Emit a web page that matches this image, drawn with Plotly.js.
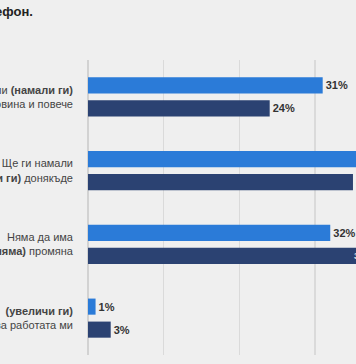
<!DOCTYPE html>
<html>
<head>
<meta charset="utf-8">
<script src="https://cdn.plot.ly/plotly-3.0.1.min.js"></script>
<style>html,body{margin:0;padding:0;background:#efefef;}#chart{width:356px;height:364px;}</style>
</head>
<body>
<div id="chart"></div>
<script>
const categories = [
  "Ще ги намали <b>(намали ги)</b><br>наполовина и повече",
  "Ще ги намали<br><b>(намали ги)</b> донякъде",
  "Няма да има<br><b>(няма)</b> промяна",
  "<b>(увеличи ги)</b><br>Ще ги увеличи за работата ми"
];
const seriesLight = [31, 36, 32, 1];
const seriesDark = [24, 35, 38, 3];
const labelsLight = seriesLight.map(v => "<b>" + v + "%</b>");
const labelsDark = seriesDark.map(v => "<b>" + v + "%</b>");

const font = "Liberation Sans, Arial, sans-serif";
const traces = [
  {
    type: "bar", orientation: "h", y: categories, x: seriesLight,
    marker: {color: "#2b7bd8"},
    text: labelsLight, textposition: "outside",
    textfont: {family: font, size: 11, color: "#333333"},
    cliponaxis: true, hoverinfo: "none"
  },
  {
    type: "bar", orientation: "h", y: categories, x: seriesDark,
    marker: {color: "#2b4272"},
    text: labelsDark, textposition: ["outside", "outside", "inside", "outside"],
    insidetextanchor: "end",
    textfont: {family: font, size: 11, color: "#333333"},
    insidetextfont: {family: font, size: 11, color: "#f0f0f0"},
    outsidetextfont: {family: font, size: 11, color: "#333333"},
    cliponaxis: true, hoverinfo: "none"
  }
];

const layout = {
  width: 356, height: 364,
  margin: {l: 88, r: 0, t: 60, b: 9, pad: 0},
  paper_bgcolor: "#efefef", plot_bgcolor: "#efefef",
  barmode: "group", bargap: 0.376, bargroupgap: 0.3,
  showlegend: false,
  font: {family: font, size: 11, color: "#444444"},
  xaxis: {
    range: [0, 35.4], dtick: 10, tick0: 0, showticklabels: false,
    showgrid: true, gridcolor: "#dadada", gridwidth: 1.5,
    zeroline: true, zerolinecolor: "#d2d2d2", zerolinewidth: 1.5,
    showline: false, fixedrange: true
  },
  yaxis: {
    autorange: "reversed", showgrid: false, zeroline: false, showline: false,
    ticks: "", ticklabelstandoff: 14,
    tickfont: {family: font, size: 11, color: "#444444"}
  },
  annotations: [{
    text: "<b>по телефон.</b>", xref: "paper", yref: "paper",
    x: -0.198, y: 1.163, xanchor: "right", yanchor: "middle",
    showarrow: false, font: {family: font, size: 13, color: "#222222"}
  }]
};

Plotly.newPlot("chart", traces, layout, {displayModeBar: false, staticPlot: true});
</script>
</body>
</html>
